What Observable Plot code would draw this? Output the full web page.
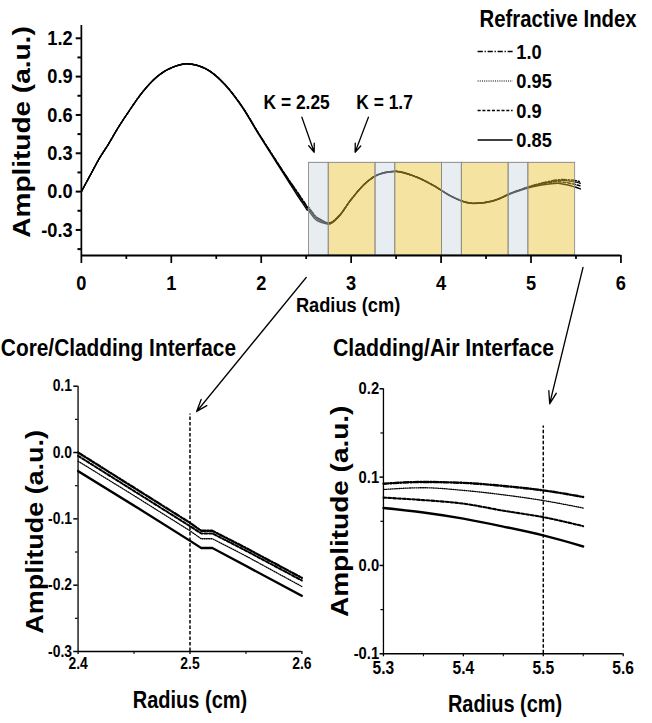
<!DOCTYPE html>
<html><head><meta charset="utf-8">
<script src="https://cdn.jsdelivr.net/npm/d3@7"></script>
<script src="https://cdn.jsdelivr.net/npm/@observablehq/plot@0.6"></script>
<style>
html,body{margin:0;padding:0;background:#fff;overflow:hidden;}
#root{position:relative;width:750px;height:723px;transform:scaleX(0.8693);transform-origin:0 0;}
#root > svg{position:absolute;}
</style></head><body><div id="root"></div>
<script>
// ---------- data ----------
const indices = ["1.0", "0.95", "0.9", "0.85"];            // refractive index series
const radius = [0, 0.1, 0.2, 0.3, 0.4, 0.53, 0.67, 0.86, 1.04, 1.17, 1.3, 1.42, 1.6, 1.79, 1.97, 2.16, 2.3, 2.4, 2.45, 2.5,
  2.51, 2.52, 2.55, 2.6, 2.68, 2.75, 2.87, 2.99, 3.17, 3.32, 3.49, 3.69, 3.92, 4.1, 4.29, 4.36, 4.58, 4.8, 5.03, 5.2,
  5.3, 5.35, 5.4, 5.45, 5.5, 5.55];
const ampN100 = [0, 0.13, 0.26, 0.37, 0.49, 0.63, 0.77, 0.91, 0.98, 1.0, 0.985, 0.947, 0.836, 0.664, 0.458, 0.25, 0.1, 0.0, -0.053, -0.106,
  -0.118, -0.118, -0.144, -0.189, -0.226, -0.245, -0.185, -0.07, 0.073, 0.139, 0.159, 0.125, 0.047, -0.031, -0.084, -0.091, -0.07, -0.005, 0.05, 0.08,
  0.0925, 0.0945, 0.0935, 0.09, 0.085, 0.0775];
const ampN095 = [0, 0.13, 0.26, 0.37, 0.49, 0.63, 0.77, 0.91, 0.98, 1.0, 0.985, 0.947, 0.835, 0.662, 0.455, 0.245, 0.093, -0.013, -0.065, -0.118,
  -0.13, -0.13, -0.156, -0.202, -0.234, -0.25, -0.188, -0.071, 0.072, 0.138, 0.158, 0.124, 0.046, -0.032, -0.086, -0.092, -0.071, -0.006, 0.048, 0.076,
  0.086, 0.088, 0.085, 0.08, 0.0735, 0.065];
const ampN090 = [0, 0.13, 0.26, 0.37, 0.49, 0.63, 0.77, 0.91, 0.98, 1.0, 0.985, 0.947, 0.836, 0.663, 0.457, 0.248, 0.097, -0.005, -0.058, -0.111,
  -0.122, -0.122, -0.148, -0.193, -0.229, -0.247, -0.186, -0.07, 0.073, 0.139, 0.159, 0.124, 0.046, -0.031, -0.085, -0.092, -0.072, -0.008, 0.045, 0.07,
  0.0768, 0.074, 0.07, 0.062, 0.0547, 0.0445];
const ampN085 = [0, 0.13, 0.26, 0.37, 0.49, 0.63, 0.77, 0.91, 0.98, 1.0, 0.985, 0.946, 0.833, 0.658, 0.45, 0.238, 0.083, -0.028, -0.08, -0.133,
  -0.144, -0.144, -0.171, -0.216, -0.243, -0.255, -0.19, -0.072, 0.072, 0.138, 0.158, 0.123, 0.045, -0.033, -0.087, -0.093, -0.073, -0.01, 0.04, 0.06,
  0.065, 0.06, 0.053, 0.044, 0.034, 0.0215];

// layered cladding bands (gap / layer boundaries, cm)
const bandEdges = [2.53, 2.75, 3.27, 3.49, 4.01, 4.23, 4.75, 4.97, 5.49];
const bandKinds = ["gap", "layer", "gap", "layer", "gap", "layer", "gap", "layer"];
const bandTop = 0.225;

// ticks
const topXTicks = [0, 1, 2, 3, 4, 5, 6];
const topXMinor = [0.5, 1.5, 2.5, 3.5, 4.5, 5.5];
const topYTicks = [-0.3, 0, 0.3, 0.6, 0.9, 1.2];
const topYMinor = [-0.45, -0.15, 0.15, 0.45, 0.75, 1.05];
const coreXTicks = [2.4, 2.5, 2.6], coreXMinor = [2.45, 2.55];
const coreYTicks = [-0.3, -0.2, -0.1, 0, 0.1], coreYMinor = [-0.25, -0.15, -0.05, 0.05];
const airXTicks = [5.3, 5.4, 5.5, 5.6], airXMinor = [5.35, 5.45, 5.55];
const airYTicks = [-0.1, 0, 0.1, 0.2], airYMinor = [-0.05, 0.05, 0.15];

// annotations
const kLabels = ["K = 2.25", "K = 1.7"];
const kLabelAt = [[2.394, 0.70], [3.372, 0.70]];
const kArrows = [[2.452, 0.582, 2.589, 0.308], [3.192, 0.582, 3.044, 0.308]];
const coreInterface = 2.5, airInterface = 5.5;
const legendTitle = "Refractive Index";
const xTitle = "Radius (cm)", yTitle = "Amplitude (a.u.)";
const coreTitle = "Core/Cladding Interface", airTitle = "Cladding/Air Interface";

// ---------- build ----------
const amplitude = [ampN100, ampN095, ampN090, ampN085];
const rows = [];
indices.forEach((n, k) => radius.forEach((r, i) => rows.push({n, r, v: amplitude[k][i]})));
const bands = bandKinds.map((kind, i) => ({kind, x1: bandEdges[i], x2: bandEdges[i + 1]}));
const fmt1 = d => d3.format(".1f")(d).replace("\u2212", "-");

const FONT = "'Liberation Sans', Arial, Helvetica, sans-serif";
const baseStyle = {fontFamily: FONT, fontWeight: "bold", background: "transparent", overflow: "visible", color: "black"};
const lineStyle = {
  "1.0": {dash: "6,2,1.5,2", w: 1.5, wb: 2.4},
  "0.95": {dash: "1.2,1.3", w: 1.3, wb: 1.3},
  "0.9": {dash: "3.5,2", w: 1.5, wb: 2.1},
  "0.85": {dash: undefined, w: 1.5, wb: 2.4}
};
function seriesMarks(keep, wide, curve) {
  return indices.map(n => Plot.line(rows.filter(d => d.n === n && keep(d.r)), {
    x: "r", y: "v", curve, stroke: "black",
    strokeWidth: wide ? lineStyle[n].wb : lineStyle[n].w,
    strokeDasharray: lineStyle[n].dash, strokeLinejoin: "round"
  }));
}
const root = document.getElementById("root");

// top panel
const topY0 = -0.5;
const topPlot = Plot.plot({
  width: 750, height: 310, marginLeft: 93.1, marginRight: 36.2, marginTop: 25, marginBottom: 55,
  x: {domain: [0, 6]}, y: {domain: [topY0, 1.3]},
  style: baseStyle,
  marks: [
    ...seriesMarks(() => true, false, "monotone-x"),
    Plot.rect(bands.filter(b => b.kind === "gap"), {x1: "x1", x2: "x2", y1: () => topY0, y2: () => bandTop,
      fill: "rgb(205,215,224)", fillOpacity: 0.45, stroke: "#8a8a8a", strokeWidth: 1}),
    Plot.rect(bands.filter(b => b.kind === "layer"), {x1: "x1", x2: "x2", y1: () => topY0, y2: () => bandTop,
      fill: "rgb(231,194,46)", fillOpacity: 0.45, stroke: "#8a8a8a", strokeWidth: 1}),
    Plot.ruleY([topY0], {strokeWidth: 2}),
    Plot.ruleX([0], {strokeWidth: 2}),
    Plot.axisX({ticks: topXTicks, tickSize: 8, tickPadding: 12, tickFormat: "d", fontSize: 21, strokeWidth: 2, label: null}),
    Plot.axisX({ticks: topXMinor, tickSize: 4, tickFormat: () => "", strokeWidth: 2, label: null}),
    Plot.axisY({ticks: topYTicks, tickSize: 6, tickPadding: 4, tickFormat: fmt1, fontSize: 21, strokeWidth: 2, label: null}),
    Plot.axisY({ticks: topYMinor, tickSize: 4, tickFormat: () => "", strokeWidth: 2, label: null}),
    Plot.text(kLabels, {x: (d, i) => kLabelAt[i][0], y: (d, i) => kLabelAt[i][1], fontSize: 20, lineAnchor: "middle"}),
    Plot.arrow(kArrows, {x1: d => d[0], y1: d => d[1], x2: d => d[2], y2: d => d[3], strokeWidth: 1.5, headLength: 9, headAngle: 45}),
    Plot.text([xTitle], {frameAnchor: "bottom", dx: -3.5, dy: 50, fontSize: 21, lineAnchor: "middle", textAnchor: "middle"}),
    Plot.text([yTitle], {frameAnchor: "left", rotate: -90, dx: -68, dy: -8.5, fontSize: 28, lineAnchor: "middle", textAnchor: "middle"})
  ]
});
topPlot.style.left = "0px"; topPlot.style.top = "0px";
root.appendChild(topPlot);

// bottom-left: core/cladding interface
const coreY0 = -0.3;
const corePlot = Plot.plot({
  width: 375, height: 403, marginLeft: 89.3, marginRight: 28.2, marginTop: 65.7, marginBottom: 72,
  x: {domain: [2.4, 2.6]}, y: {domain: [coreY0, 0.1]},
  style: baseStyle,
  marks: [
    ...seriesMarks(r => r >= 2.4 && r <= 2.6, true, "linear"),
    Plot.ruleX([coreInterface], {y1: () => coreY0, y2: () => 0.058, strokeDasharray: "3.5,2", strokeWidth: 1.7}),
    Plot.ruleY([coreY0], {strokeWidth: 1.5}),
    Plot.ruleX([2.4], {strokeWidth: 1.5}),
    Plot.axisX({ticks: coreXTicks, tickSize: 3, tickPadding: 3, tickFormat: fmt1, fontSize: 16, strokeWidth: 1.5, label: null}),
    Plot.axisX({ticks: coreXMinor, tickSize: 3, tickFormat: () => "", strokeWidth: 1.2, label: null}),
    Plot.axisY({ticks: coreYTicks, tickSize: 5, tickPadding: 2, tickFormat: fmt1, fontSize: 16, strokeWidth: 1.5, label: null}),
    Plot.axisY({ticks: coreYMinor, tickSize: 3, tickFormat: () => "", strokeWidth: 1.2, label: null}),
    Plot.text([xTitle], {frameAnchor: "bottom", dy: 49, fontSize: 23, lineAnchor: "middle", textAnchor: "middle"}),
    Plot.text([yTitle], {frameAnchor: "left", rotate: -90, dx: -49, dy: 13, fontSize: 27, lineAnchor: "middle", textAnchor: "middle"})
  ]
});
corePlot.style.left = "0px"; corePlot.style.top = "320px";
root.appendChild(corePlot);

// bottom-right: cladding/air interface
const airY0 = -0.1;
const airPlot = Plot.plot({
  width: 375, height: 403, marginLeft: 65.6, marginRight: 33.6, marginTop: 68.3, marginBottom: 69.7,
  x: {domain: [5.3, 5.6]}, y: {domain: [airY0, 0.2]},
  style: baseStyle,
  marks: [
    ...seriesMarks(r => r >= 5.3 && r <= 5.6, true, "monotone-x"),
    Plot.ruleX([airInterface], {y1: () => airY0, y2: () => 0.158, strokeDasharray: "3.5,2", strokeWidth: 1.7}),
    Plot.ruleY([airY0], {strokeWidth: 1.5}),
    Plot.ruleX([5.3], {strokeWidth: 1.5}),
    Plot.axisX({ticks: airXTicks, tickSize: 3, tickPadding: 4, tickFormat: fmt1, fontSize: 18, strokeWidth: 1.5, label: null}),
    Plot.axisX({ticks: airXMinor, tickSize: 3, tickFormat: () => "", strokeWidth: 1.2, label: null}),
    Plot.axisY({ticks: airYTicks, tickSize: 4, tickPadding: 1, tickFormat: fmt1, fontSize: 17, strokeWidth: 1.5, label: null}),
    Plot.axisY({ticks: airYMinor, tickSize: 3, tickFormat: () => "", strokeWidth: 1.2, label: null}),
    Plot.text([xTitle], {frameAnchor: "bottom", dx: 2, dy: 51, fontSize: 23, lineAnchor: "middle", textAnchor: "middle"}),
    Plot.text([yTitle], {frameAnchor: "left", rotate: -90, dx: -49.8, dy: -10, fontSize: 28, lineAnchor: "middle", textAnchor: "middle"})
  ]
});
airPlot.style.left = "375px"; airPlot.style.top = "320px";
root.appendChild(airPlot);

// legend + panel titles
const ann = d3.create("svg").attr("width", 750).attr("height", 723)
  .style("left", "0px").style("top", "0px")
  .style("font-family", FONT).style("font-weight", "bold");
ann.append("text").attr("x", 551.7).attr("y", 26.7).attr("font-size", 23.4).text(legendTitle);
indices.forEach((n, i) => {
  const cy = 51.5 + i * 29.5;
  ann.append("line").attr("x1", 549.4).attr("x2", 589.7).attr("y1", cy).attr("y2", cy)
    .attr("stroke", "black").attr("stroke-width", n === "0.95" ? 1.2 : 1.4)
    .attr("stroke-dasharray", lineStyle[n].dash || null);
  ann.append("text").attr("x", 594).attr("y", cy + 7.5).attr("font-size", 21).text(n);
});
ann.append("text").attr("x", 1).attr("y", 356.5).attr("font-size", 24).text(coreTitle);
ann.append("text").attr("x", 383).attr("y", 356.5).attr("font-size", 24.5).text(airTitle);
root.appendChild(ann.node());

// arrows linking top panel to the zoomed panels (positions from the panels' own scales)
const tx = topPlot.scale("x"), ty = topPlot.scale("y");
const cx = corePlot.scale("x"), cyS = corePlot.scale("y");
const ax = airPlot.scale("x"), ay = airPlot.scale("y");
const links = [
  {x1: tx.apply(coreInterface), y1: ty.apply(topY0) + 22, x2: cx.apply(2.506), y2: 320 + cyS.apply(0.062)},
  {x1: tx.apply(5.578), y1: ty.apply(topY0) + 12, x2: 375 + ax.apply(5.508), y2: 320 + ay.apply(0.183)}
];
const overlay = Plot.plot({
  width: 750, height: 723, margin: 0,
  x: {type: "identity", axis: null}, y: {type: "identity", axis: null},
  style: {background: "transparent", overflow: "visible"},
  marks: [Plot.arrow(links, {x1: "x1", y1: "y1", x2: "x2", y2: "y2", stroke: "black", strokeWidth: 1.5, headLength: 13, headAngle: 40})]
});
overlay.style.left = "0px"; overlay.style.top = "0px";
root.appendChild(overlay);
</script></body></html>
